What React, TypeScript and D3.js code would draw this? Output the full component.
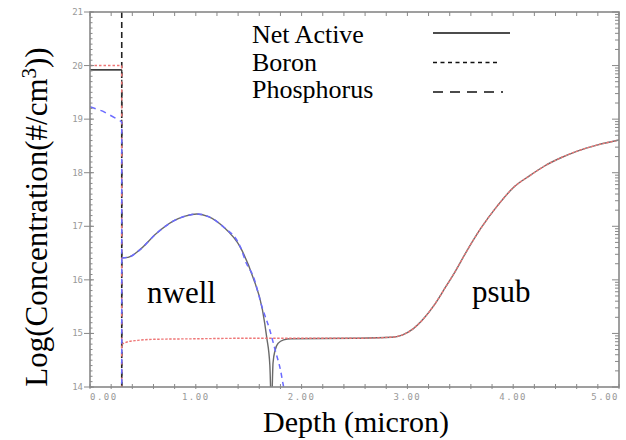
import React from "react";
import * as d3 from "d3";

// depth (micron), log10 concentration
const interfaceDepth = 0.3;

const netActiveSurface: [number, number][] = [[0, 19.92], [0.3, 19.92]];
const netActiveBulk: [number, number][] = [
  [0.3, 16.41], [0.36, 16.42], [0.47, 16.56], [0.63, 16.87], [0.79, 17.1], [0.9, 17.19],
  [1.01, 17.23], [1.12, 17.18], [1.26, 16.99], [1.42, 16.61], [1.54, 16.05], [1.63, 15.44],
  [1.67, 14.93], [1.7, 14.4], [1.715, 13.6], [1.73, 14.45], [1.75, 14.69], [1.78, 14.82],
  [1.83, 14.88], [1.9, 14.9], [2.5, 14.91], [2.85, 14.93], [2.95, 14.97], [3.05, 15.08],
  [3.15, 15.27], [3.25, 15.52], [3.35, 15.83], [3.45, 16.15], [3.55, 16.5], [3.69, 16.95],
  [3.85, 17.38], [4.0, 17.72], [4.16, 17.95], [4.3, 18.13], [4.44, 18.27], [4.6, 18.4],
  [4.8, 18.52], [5.0, 18.61],
];

const boronSurface: [number, number][] = [[0, 20.0], [0.3, 20.0]];
const boronBulk: [number, number][] = [
  [0.3, 14.8], [0.35, 14.84], [0.45, 14.87], [0.6, 14.89], [1.0, 14.9], [1.5, 14.91],
  [2.0, 14.91], [2.5, 14.91], [2.85, 14.93], [2.95, 14.97], [3.05, 15.08], [3.15, 15.27],
  [3.25, 15.52], [3.35, 15.83], [3.45, 16.15], [3.55, 16.5], [3.69, 16.95], [3.85, 17.38],
  [4.0, 17.72], [4.16, 17.95], [4.3, 18.13], [4.44, 18.27], [4.6, 18.4], [4.8, 18.52],
  [5.0, 18.61],
];

const phosSurface: [number, number][] = [[0, 19.23], [0.12, 19.15], [0.24, 19.02], [0.3, 18.95]];
const phosBulk: [number, number][] = [
  [0.3, 16.41], [0.36, 16.42], [0.47, 16.56], [0.63, 16.87], [0.79, 17.1], [0.9, 17.19],
  [1.01, 17.23], [1.12, 17.18], [1.26, 16.99], [1.42, 16.62], [1.48, 16.3], [1.54, 16.08],
  [1.63, 15.47], [1.7, 15.06], [1.75, 14.69], [1.8, 14.32], [1.83, 14.0], [1.86, 13.7],
];

const xTicks = [0, 1, 2, 3, 4, 5];
const xTickLabels = ["0.00", "1.00", "2.00", "3.00", "4.00", "5.00"];
const yTicks = [14, 15, 16, 17, 18, 19, 20, 21];

const legendItems = ["Net Active", "Boron", "Phosphorus"];
const legendDash = ["", "4,3.5", "10,7"];
const legendLineEnd = [510, 498, 503];

const W = 626;
const H = 440;
const m = { left: 90, right: 7, top: 12, bottom: 53 };

export default function App() {
  const x = d3.scaleLinear().domain([0, 5]).range([m.left, W - m.right]);
  const y = d3.scaleLinear().domain([14, 21]).range([H - m.bottom, m.top]);

  const straight = d3.line<[number, number]>().x((d) => x(d[0])).y((d) => y(d[1]));
  const smooth = d3
    .line<[number, number]>()
    .x((d) => x(d[0]))
    .y((d) => y(d[1]))
    .curve(d3.curveMonotoneX);

  const drop = (top: number): [number, number][] => [[interfaceDepth, top], [interfaceDepth, 13.5]];

  const x0 = x(0), x1 = x(5), y0 = y(14), y1 = y(21);
  const minorX = d3.range(0, 5.0001, 0.2);
  const minorYLeft = d3.range(14, 21.0001, 0.1);
  const logMinor: number[] = [];
  for (let dec = 14; dec < 21; dec++) {
    for (let k = 2; k <= 9; k++) logMinor.push(dec + Math.log10(k));
  }

  const serif = "'Liberation Serif', 'Times New Roman', serif";
  const netColor = "#6a6a6a";
  const boronColor = "#ee7676";
  const phosColor = "#6b6bff";

  return (
    <svg width={W} height={H} style={{ position: "absolute", left: 0, top: 0, background: "#fff" }}>
      <defs>
        <clipPath id="plot">
          <rect x={x0} y={y1} width={x1 - x0} height={y0 - y1} />
        </clipPath>
      </defs>

      {/* interface marker */}
      <line x1={x(interfaceDepth)} x2={x(interfaceDepth)} y1={y(21)} y2={y(14)}
        stroke="#222" strokeWidth={1.6} strokeDasharray="6,4" />

      <g clipPath="url(#plot)" fill="none">
        <path d={straight(netActiveSurface)!} stroke="#333" strokeWidth={1.6} />
        <path d={straight(drop(19.92))!} stroke="#333" strokeWidth={1.4} strokeDasharray="6,4" />
        <path d={smooth(netActiveBulk)!} stroke={netColor} strokeWidth={1.4} />

        <path d={straight(boronSurface)!} stroke={boronColor} strokeWidth={1.5} strokeDasharray="2.5,2" />
        <path d={straight(drop(20.0))!} stroke={boronColor} strokeWidth={1.5} strokeDasharray="3,5" />
        <path d={smooth(boronBulk)!} stroke={boronColor} strokeWidth={1.4} strokeDasharray="2.5,1.5" />

        <path d={straight(phosSurface)!} stroke={phosColor} strokeWidth={1.5} strokeDasharray="6,5" />
        <path d={straight(drop(18.95))!} stroke={phosColor} strokeWidth={1.5} strokeDasharray="5,5" strokeDashoffset={3} />
        <path d={smooth(phosBulk)!} stroke={phosColor} strokeWidth={1.5} strokeDasharray="5,4" />
      </g>

      {/* frame */}
      <rect x={x0} y={y1} width={x1 - x0} height={y0 - y1} fill="none" stroke="#888" strokeWidth={1.6} />

      {/* ticks */}
      <g stroke="#888" strokeWidth={1}>
        {minorX.map((t, i) => (
          <g key={"tx" + i}>
            <line x1={x(t)} x2={x(t)} y1={y0 - 3} y2={y0 + 2} />
            <line x1={x(t)} x2={x(t)} y1={y1} y2={y1 + 4} />
          </g>
        ))}
        {minorYLeft.map((t, i) => (
          <line key={"yl" + i} x1={x0} x2={x0 + 2.5} y1={y(t)} y2={y(t)} />
        ))}
        {yTicks.map((t) => (
          <g key={"yt" + t}>
            <line x1={x0 - 6} x2={x0 + 4} y1={y(t)} y2={y(t)} />
            <line x1={x1 - 7} x2={x1} y1={y(t)} y2={y(t)} />
          </g>
        ))}
        {logMinor.map((t, i) => (
          <line key={"lm" + i} x1={x1 - 4} x2={x1} y1={y(t)} y2={y(t)} />
        ))}
      </g>

      <g fill="#999" fontFamily="'DejaVu Sans Mono', monospace" fontSize={9}>
        {yTicks.map((t) => (
          <text key={"yl" + t} x={x0 - 7} y={y(t) + 3} textAnchor="end">{t}</text>
        ))}
        {xTicks.map((t, i) => (
          <text key={"xl" + t} x={x(t)} y={y0 + 13} letterSpacing={1.5}
            textAnchor={i === 0 ? "start" : i === xTicks.length - 1 ? "end" : "middle"}>
            {xTickLabels[i]}
          </text>
        ))}
      </g>

      {/* legend */}
      <g fontFamily={serif} fontSize={26} fill="#000">
        {legendItems.map((name, i) => (
          <g key={name}>
            <text x={252} y={43 + i * 27.5}>{name}</text>
            <line x1={433} x2={legendLineEnd[i]} y1={33 + i * 29.5} y2={33 + i * 29.5}
              stroke="#111" strokeWidth={1.6} strokeDasharray={legendDash[i] || undefined} />
          </g>
        ))}
      </g>

      {/* annotations */}
      <g fontFamily={serif} fontSize={31} fill="#000">
        <text x={147} y={303}>nwell</text>
        <text x={472} y={302}>psub</text>
      </g>

      {/* axis titles */}
      <text x={356} y={432} textAnchor="middle" fontFamily={serif} fontSize={30}>Depth (micron)</text>
      <text transform="translate(47,217) rotate(-90)" textAnchor="middle" fontFamily={serif} fontSize={31}>
        Log(Concentration(#/cm<tspan dy={-11} fontSize={21}>3</tspan><tspan dy={11}>))</tspan>
      </text>
    </svg>
  );
}
